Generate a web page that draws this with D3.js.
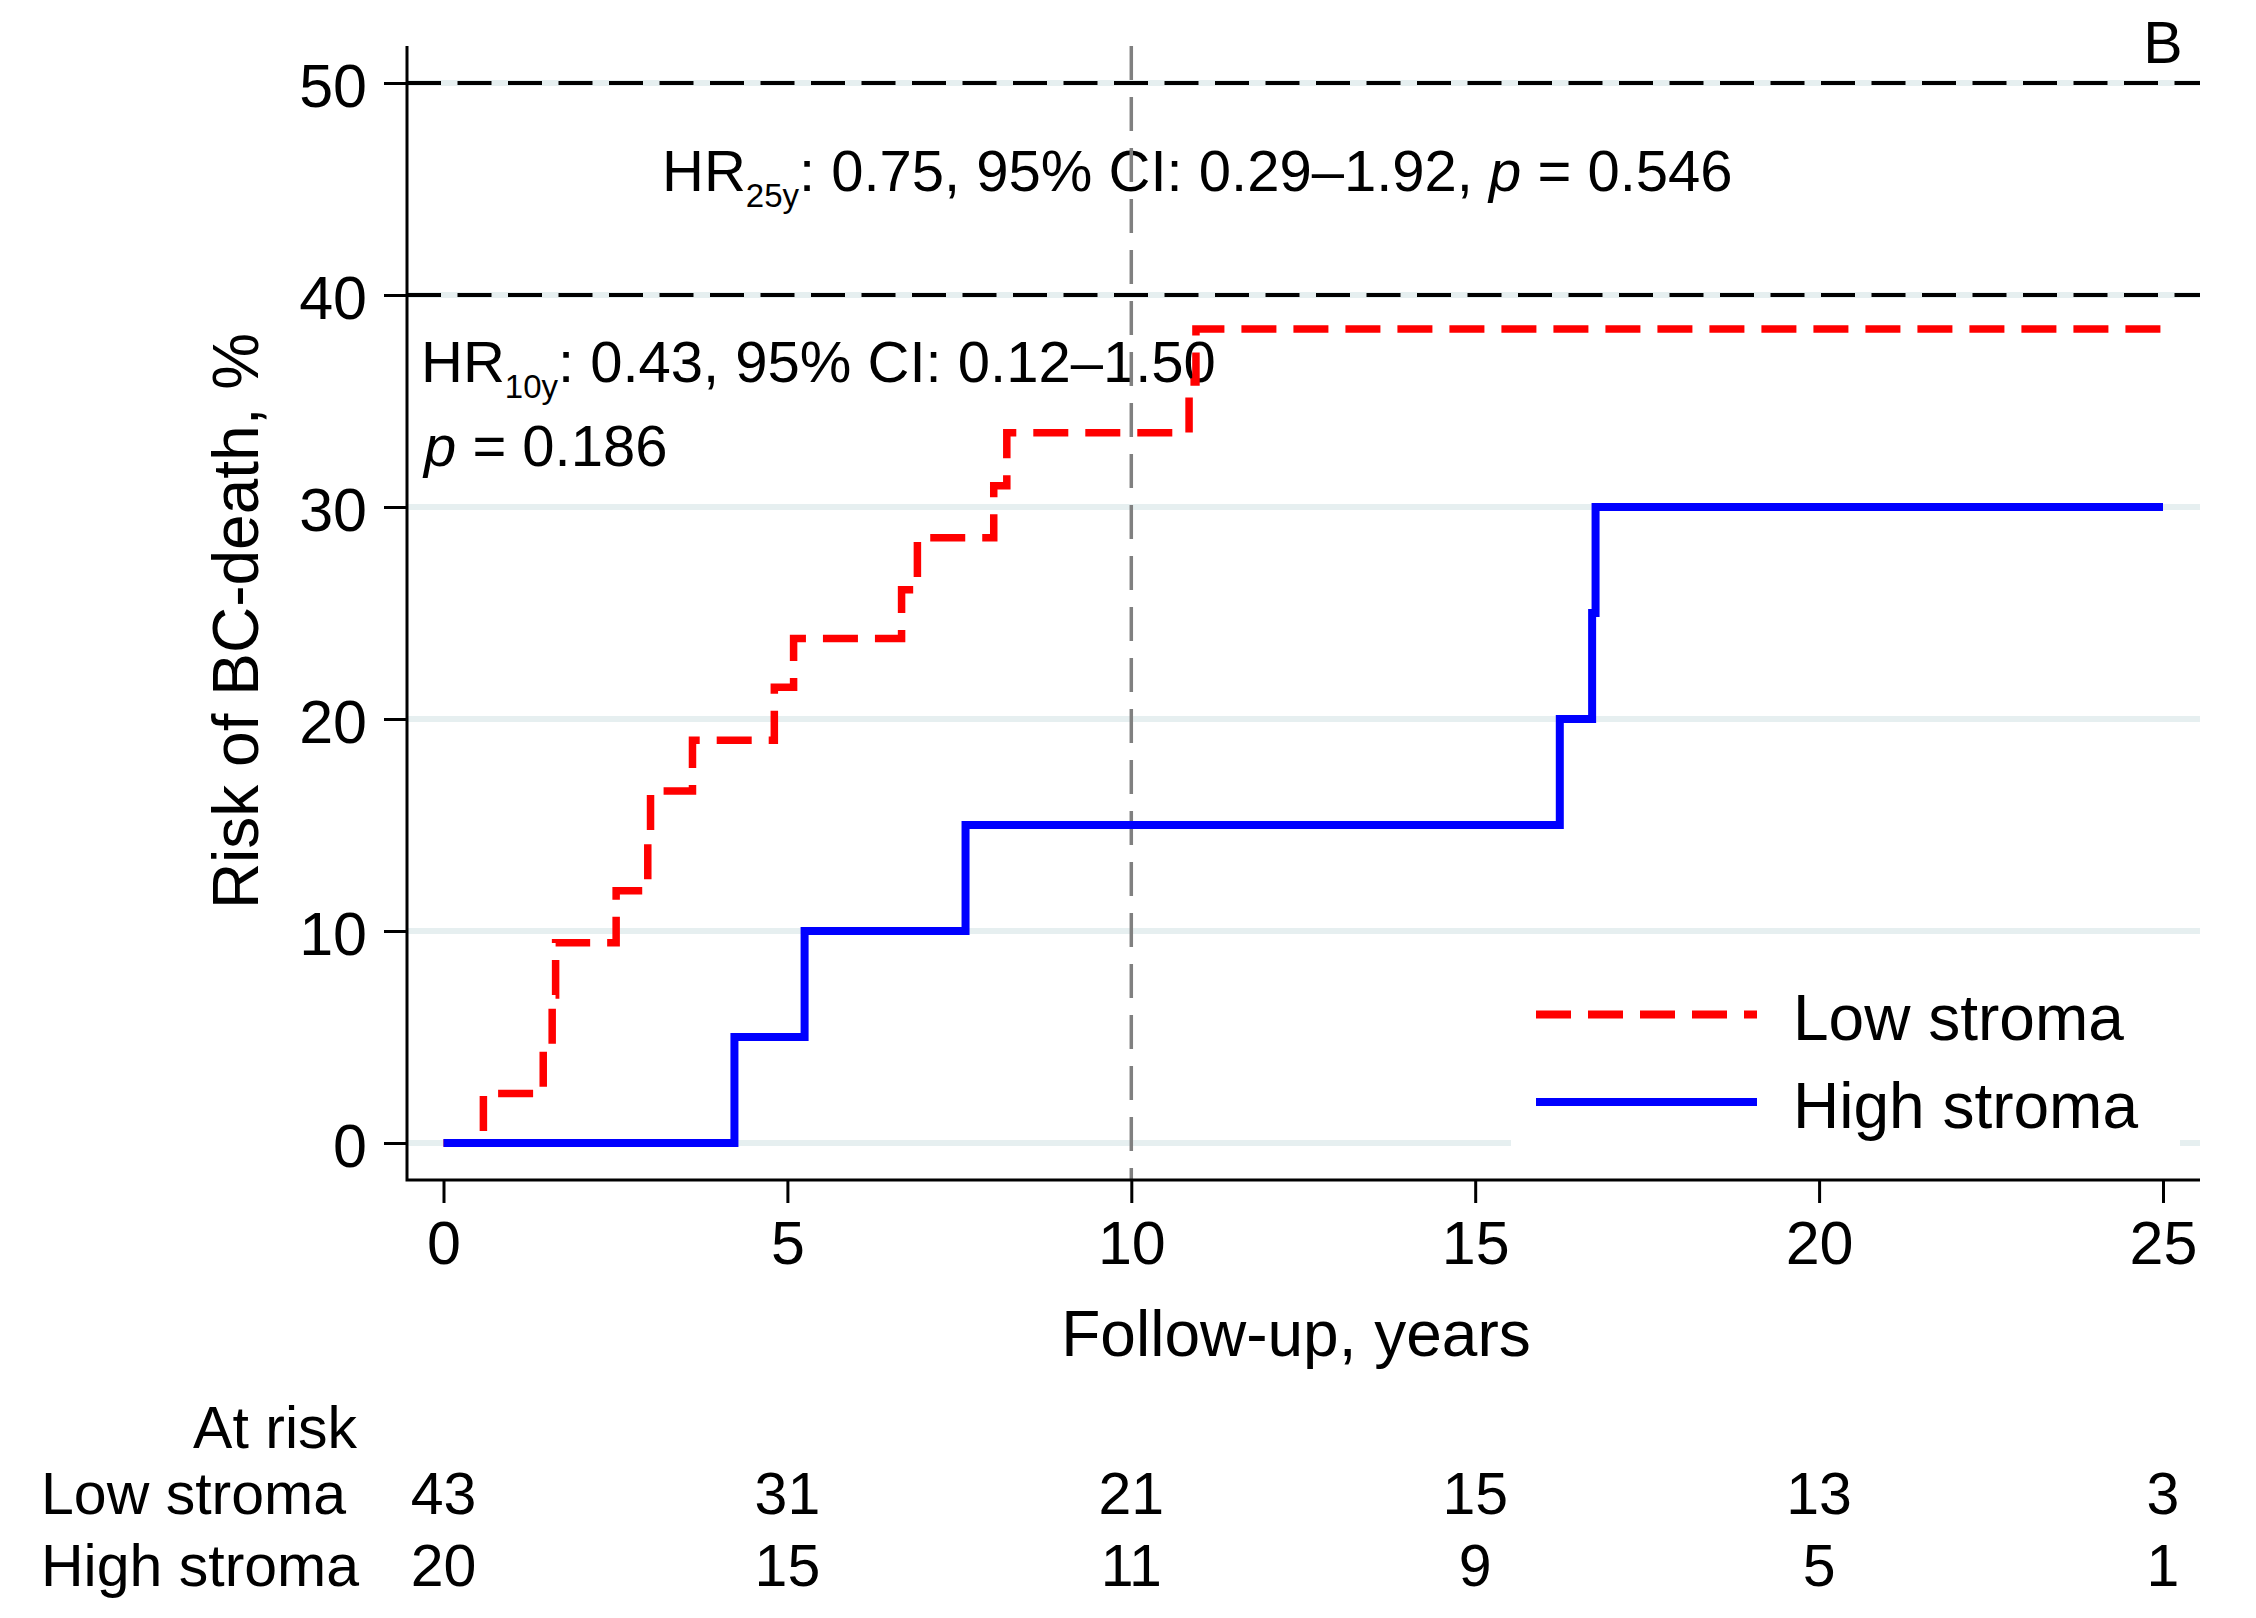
<!DOCTYPE html>
<html>
<head>
<meta charset="utf-8">
<script src="https://cdn.jsdelivr.net/npm/d3@7"></script>
<style>
  body { margin: 0; background: #fff; }
  svg { display: block; font-family: "Liberation Sans", Arial, Helvetica, sans-serif; }
</style>
</head>
<body>
<script>
// Kaplan-Meier style cumulative risk
const lowTimes  = [0, 0.58, 1.45, 1.58, 1.63, 2.51, 2.97, 3.01, 3.62, 4.81, 5.09, 6.66, 6.89, 8.0, 8.19, 10.84, 10.94, 25];
const lowRisk   = [0, 2.33, 4.65, 6.98, 9.45, 11.9, 14.2, 16.6, 19.0, 21.5, 23.8, 26.1, 28.55, 31.0, 33.5, 35.9, 38.4, 38.4];
const highTimes = [0, 4.23, 5.25, 7.59, 16.23, 16.70, 16.75, 25];
const highRisk  = [0, 5, 10, 15, 20, 25, 30, 30];

const xTicks = [0, 5, 10, 15, 20, 25];
const yTicks = [0, 10, 20, 30, 40, 50];
const refLines = [40, 50];   // black dashed
const cutoffYear = 10;       // grey dashed vertical

const groups = ["Low stroma", "High stroma"];
const atRiskLow  = [43, 31, 21, 15, 13, 3];
const atRiskHigh = [20, 15, 11, 9, 5, 1];

const W = 2256, H = 1618;
const plot = { left: 407, right: 2200, top: 46, bottom: 1180 };
const red = "#ff0000", blue = "#0000ff", gridCol = "#e6eff0";

const x = d3.scaleLinear().domain([0, 25]).range([443.5, 2163]);
const y = d3.scaleLinear().domain([0, 50]).range([1143, 83]);

const svg = d3.select("body").append("svg")
    .attr("width", W).attr("height", H)
    .attr("viewBox", [0, 0, W, H]);

// gridlines
svg.append("g")
    .selectAll("line")
    .data(yTicks)
    .join("line")
    .attr("x1", plot.left).attr("x2", plot.right)
    .attr("y1", d => y(d)).attr("y2", d => y(d))
    .attr("stroke", gridCol).attr("stroke-width", 6);

// reference dashed lines at 40 and 50
svg.append("g")
    .selectAll("line")
    .data(refLines)
    .join("line")
    .attr("x1", plot.left).attr("x2", plot.right)
    .attr("y1", d => y(d)).attr("y2", d => y(d))
    .attr("stroke", "#000").attr("stroke-width", 4)
    .attr("stroke-dasharray", "34 16.5");

// HR annotations (drawn under the curves)
const note = svg.append("g").attr("fill", "#000");

function hrText(xPos, yPos, sub, rest) {
    const t = note.append("text").attr("x", xPos).attr("y", yPos).attr("font-size", 58);
    t.append("tspan").text("HR");
    t.append("tspan").attr("font-size", 33).attr("dy", 16).text(sub);
    t.append("tspan").attr("dy", -16).text(rest);
    return t;
}
const t25 = hrText(662, 191, "25y", ": 0.75, 95% CI: 0.29\u20131.92, ");
t25.append("tspan").attr("font-style", "italic").text("p");
t25.append("tspan").text(" = 0.546");

hrText(421, 382, "10y", ": 0.43, 95% CI: 0.12\u20131.50");
const tp = note.append("text").attr("x", 424).attr("y", 466).attr("font-size", 58);
tp.append("tspan").attr("font-style", "italic").text("p");
tp.append("tspan").text(" = 0.186");

// vertical line at 10 years
svg.append("line")
    .attr("x1", x(cutoffYear)).attr("x2", x(cutoffYear))
    .attr("y1", plot.top).attr("y2", plot.bottom)
    .attr("stroke", "#808080").attr("stroke-width", 3.5)
    .attr("stroke-dasharray", "34 17");

// curves
const line = d3.line()
    .x(d => x(d[0])).y(d => y(d[1]))
    .curve(d3.curveStepAfter);

svg.append("path")
    .attr("d", line(d3.zip(lowTimes, lowRisk)))
    .attr("fill", "none").attr("stroke", red).attr("stroke-width", 7.5)
    .attr("stroke-dasharray", "35 17");

svg.append("path")
    .attr("d", line(d3.zip(highTimes, highRisk)))
    .attr("fill", "none").attr("stroke", blue).attr("stroke-width", 8);

// axes
const yAxis = svg.append("g")
    .attr("transform", `translate(${plot.left},0)`)
    .call(d3.axisLeft(y).tickValues(yTicks).tickSize(23).tickPadding(17));
const xAxis = svg.append("g")
    .attr("transform", `translate(0,${plot.bottom})`)
    .call(d3.axisBottom(x).tickValues(xTicks).tickSize(23).tickPadding(18));

[yAxis, xAxis].forEach(a => {
    a.select(".domain").remove();
    a.selectAll(".tick line").attr("stroke", "#000").attr("stroke-width", 3);
    a.selectAll(".tick text").attr("fill", "#000").attr("font-size", 61)
        .attr("font-family", "Liberation Sans, Arial, sans-serif");
});
yAxis.selectAll(".tick text").attr("dy", "0.38em");
xAxis.selectAll(".tick text").attr("dy", "0.71em");

svg.append("path")
    .attr("d", `M${plot.left},${plot.top}V${plot.bottom}H${plot.right}`)
    .attr("fill", "none").attr("stroke", "#000").attr("stroke-width", 3);

// axis titles
svg.append("text")
    .attr("x", 1296).attr("y", 1356)
    .attr("text-anchor", "middle").attr("font-size", 64)
    .text("Follow-up, years");
svg.append("text")
    .attr("transform", "translate(258,621) rotate(-90)")
    .attr("text-anchor", "middle").attr("font-size", 64)
    .text("Risk of BC-death, %");

// panel letter
svg.append("text")
    .attr("x", x(25)).attr("y", 63)
    .attr("text-anchor", "middle").attr("font-size", 59)
    .text("B");

// legend
const legend = svg.append("g");
legend.append("rect")
    .attr("x", 1511).attr("y", 950).attr("width", 669).attr("height", 200)
    .attr("fill", "#fff");
const legendItems = [
    { name: groups[0], color: red, dash: "35 17", y: 1014.5 },
    { name: groups[1], color: blue, dash: null, y: 1102 }
];
legendItems.forEach(d => {
    legend.append("line")
        .attr("x1", 1536).attr("x2", 1757)
        .attr("y1", d.y).attr("y2", d.y)
        .attr("stroke", d.color).attr("stroke-width", 8)
        .attr("stroke-dasharray", d.dash);
    legend.append("text")
        .attr("x", 1793).attr("y", d.y + 25.5)
        .attr("font-size", 64)
        .text(d.name);
});

// number at risk table
const table = svg.append("g").attr("font-size", 59);
table.append("text")
    .attr("x", 357).attr("y", 1448)
    .attr("text-anchor", "end")
    .text("At risk");
const rows = [
    { name: groups[0], values: atRiskLow, y: 1514 },
    { name: groups[1], values: atRiskHigh, y: 1586 }
];
rows.forEach(r => {
    table.append("text").attr("x", 41).attr("y", r.y).text(r.name);
    table.append("g")
        .selectAll("text")
        .data(r.values)
        .join("text")
        .attr("x", (d, i) => x(xTicks[i]))
        .attr("y", r.y)
        .attr("text-anchor", "middle")
        .text(d => d);
});
</script>
</body>
</html>
